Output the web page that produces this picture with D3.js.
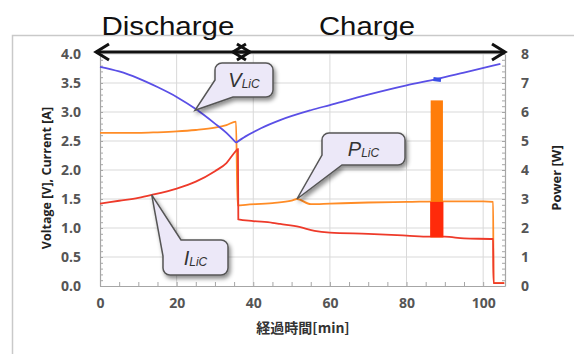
<!DOCTYPE html>
<html>
<head>
<meta charset="utf-8">
<script src="https://cdn.jsdelivr.net/npm/d3@7"></script>
<style>
  body { margin: 0; background: #fff; }
  svg { display: block; }
  .tick text { font-family: "Open Sans", sans-serif; font-weight: bold; fill: #555; }
</style>
</head>
<body>
<div id="chart"></div>
<script>
// time [min] / value pairs
const voltTime   = [0, 5, 10, 15, 20, 25, 30, 33, 35.5, 38, 42, 47, 55, 60, 70, 80, 88, 95, 104.5];
const voltValue  = [3.78, 3.70, 3.58, 3.43, 3.26, 3.05, 2.80, 2.64, 2.47, 2.58, 2.72, 2.86, 3.03, 3.12, 3.30, 3.46, 3.57, 3.68, 3.83];

const currTime   = [0, 5, 10, 13.5, 20, 25, 30, 33, 35.5, 36, 36.1, 40, 45, 47, 52, 56, 60, 70, 80, 86, 90, 95, 102.6, 102.7, 105.5];
const currValue  = [1.42, 1.47, 1.52, 1.57, 1.68, 1.80, 1.98, 2.12, 2.33, 2.36, 1.15, 1.12, 1.09, 1.07, 1.02, 0.95, 0.92, 0.90, 0.87, 0.85, 0.85, 0.82, 0.81, 0.05, 0.05];

const powTime    = [0, 10, 15, 20, 25, 30, 33, 35.5, 35.9, 38, 45, 50, 51.4, 55, 60, 70, 80, 90, 100, 102.6, 102.7, 105.5];
const powValue   = [5.28, 5.28, 5.30, 5.33, 5.38, 5.46, 5.55, 5.67, 2.78, 2.80, 2.86, 2.94, 3.00, 2.82, 2.84, 2.88, 2.90, 2.92, 2.92, 2.90, 0.1, 0.1];

// pulse test around 87 min
const pulseTime     = [86.3, 89.5];
const pulsePowerTop = 6.4;
const pulseCurrent  = [0.84, 1.45];
const blobTime      = [87, 89];
const blobVolt      = 3.57;

const phases = [
  {name: "Discharge", start: 0, end: 36},
  {name: "Charge", start: 36, end: 105.7}
];

const xTicks = [0, 20, 40, 60, 80, 100];
const leftTicks = [0, 0.5, 1, 1.5, 2, 2.5, 3, 3.5, 4];
const rightTicks = [0, 1, 2, 3, 4, 5, 6, 7, 8];

const W = 574, H = 354;
const svg = d3.select("#chart").append("svg").attr("width", W).attr("height", H);

const x = d3.scaleLinear().domain([0, 105.7]).range([100, 505]);
const yL = d3.scaleLinear().domain([0, 4]).range([286, 54]);
const yR = d3.scaleLinear().domain([0, 8]).range([286, 54]);

// outer frame
svg.append("path")
  .attr("d", "M12.5,354 V35.5 H574")
  .attr("fill", "none").attr("stroke", "#c9c9c9").attr("stroke-width", 1.5);

const defs = svg.append("defs");
const f = defs.append("filter").attr("id", "shadow").attr("x", "-20%").attr("y", "-20%").attr("width", "150%").attr("height", "160%");
f.append("feDropShadow").attr("dx", 2).attr("dy", 3).attr("stdDeviation", 2)
  .attr("flood-color", "#000").attr("flood-opacity", 0.45);

// grid
svg.append("g").selectAll("line").data(xTicks.filter(d => d > 0)).join("line")
  .attr("x1", d => x(d)).attr("x2", d => x(d))
  .attr("y1", yL(0)).attr("y2", yL(4))
  .attr("stroke", "#d9d9d9").attr("stroke-width", 1);
svg.append("g").selectAll("line").data(leftTicks.filter(d => d > 0)).join("line")
  .attr("x1", x(0)).attr("x2", x.range()[1])
  .attr("y1", d => yL(d)).attr("y2", d => yL(d))
  .attr("stroke", "#d9d9d9").attr("stroke-width", 1);

// axes
const axL = svg.append("g").attr("transform", `translate(${x(0)},0)`)
  .call(d3.axisLeft(yL).tickValues(leftTicks).tickFormat(d3.format(".1f")).tickSize(0).tickPadding(19));
const axR = svg.append("g").attr("transform", `translate(${x.range()[1]},0)`)
  .call(d3.axisRight(yR).tickValues(rightTicks).tickFormat(d3.format("d")).tickSize(0).tickPadding(16));
const axB = svg.append("g").attr("transform", `translate(0,${yL(0)})`)
  .call(d3.axisBottom(x).tickValues(xTicks).tickSize(0).tickPadding(12));
[axL, axR, axB].forEach(a => {
  a.select(".domain").attr("stroke", "#a6a6a6").attr("stroke-width", 1.2);
  a.selectAll(".tick text").attr("font-size", 14);
});

// minor ticks
svg.append("g").attr("transform", `translate(${x(0)},0)`)
  .call(d3.axisRight(yL).ticks(40).tickSize(3).tickFormat(""))
  .call(g => g.select(".domain").remove())
  .selectAll("line").attr("stroke", "#a6a6a6");
svg.append("g").attr("transform", `translate(${x.range()[1]},0)`)
  .call(d3.axisLeft(yR).ticks(40).tickSize(3).tickFormat(""))
  .call(g => g.select(".domain").remove())
  .selectAll("line").attr("stroke", "#a6a6a6");
svg.append("g").attr("transform", `translate(0,${yL(0)})`)
  .call(d3.axisTop(x).tickValues(d3.range(0, 105, 5)).tickSize(4).tickFormat(""))
  .call(g => g.select(".domain").remove())
  .selectAll("line").attr("stroke", "#a6a6a6");

// axis titles
svg.append("text")
  .attr("transform", `translate(51,${(yL(0) + yL(4)) / 2 + 8}) rotate(-90)`)
  .attr("text-anchor", "middle")
  .attr("font-family", "Open Sans, sans-serif").attr("font-weight", "bold").attr("font-size", 12.5)
  .attr("fill", "#222").text("Voltage [V], Current [A]");
svg.append("text")
  .attr("transform", `translate(561,${(yL(0) + yL(4)) / 2 + 8}) rotate(-90)`)
  .attr("text-anchor", "middle")
  .attr("font-family", "Open Sans, sans-serif").attr("font-weight", "bold").attr("font-size", 13)
  .attr("fill", "#222").text("Power [W]");
svg.append("text")
  .attr("x", 303).attr("y", 333)
  .attr("text-anchor", "middle")
  .attr("font-family", "Noto Sans CJK JP, sans-serif").attr("font-weight", "bold").attr("font-size", 14)
  .attr("fill", "#333").text("経過時間[min]");

// series
const zip = (t, v) => t.map((d, i) => [d, v[i]]);
const lineL = d3.line().curve(d3.curveMonotoneX).x(d => x(d[0])).y(d => yL(d[1]));
const lineR = d3.line().curve(d3.curveMonotoneX).x(d => x(d[0])).y(d => yR(d[1]));

svg.append("path").datum(zip(powTime, powValue))
  .attr("d", lineR).attr("fill", "none").attr("stroke", "#ff8c26").attr("stroke-width", 1.8);
svg.append("path").datum(zip(currTime, currValue))
  .attr("d", lineL).attr("fill", "none").attr("stroke", "#ee3a2a").attr("stroke-width", 1.8);
const volt = zip(voltTime, voltValue);
svg.append("path")
  .attr("d", lineL(volt.slice(0, 9)) + lineL(volt.slice(8)))
  .attr("fill", "none").attr("stroke", "#5a4fe6").attr("stroke-width", 1.8);

// pulse section
svg.append("rect")
  .attr("x", x(pulseTime[0])).attr("width", x(pulseTime[1]) - x(pulseTime[0]))
  .attr("y", yR(pulsePowerTop)).attr("height", yL(pulseCurrent[0]) - yR(pulsePowerTop))
  .attr("fill", "#ff7d0a");
svg.append("rect")
  .attr("x", x(pulseTime[0]) - 0.5).attr("width", x(pulseTime[1]) - x(pulseTime[0]) + 1)
  .attr("y", yL(pulseCurrent[1])).attr("height", yL(pulseCurrent[0]) - yL(pulseCurrent[1]))
  .attr("fill", "#ff2a0a");
svg.append("line")
  .attr("x1", x(blobTime[0])).attr("x2", x(blobTime[1]))
  .attr("y1", yL(blobVolt)).attr("y2", yL(blobVolt) + 1)
  .attr("stroke", "#3a4fe6").attr("stroke-width", 4);

// phase arrows
const arrowG = svg.append("g").attr("stroke", "#111").attr("stroke-width", 3).attr("fill", "none");
function chev(xt, yt, dir) {
  return `M${xt - dir * 13},${yt - 8} L${xt},${yt} L${xt - dir * 13},${yt + 8}`;
}
const ay = 52;
const arrowEnds = [[x(phases[0].start) - 4, x(phases[0].end) + 12], [x(phases[1].start) - 5, x(phases[1].end)]];
phases.forEach((p, i) => {
  const [x1, x2] = arrowEnds[i];
  arrowG.append("path").attr("d", `M${x1},${ay} H${x2}`);
  arrowG.append("path").attr("d", chev(x1, ay, -1));
  arrowG.append("path").attr("d", chev(x2, ay, 1));
});
const titleLen = [133, 96];
svg.append("g").selectAll("text").data(phases).join("text")
  .attr("x", (d, i) => (arrowEnds[i][0] + arrowEnds[i][1]) / 2 + (i === 0 ? -5 : -2))
  .attr("y", 35)
  .attr("text-anchor", "middle")
  .attr("font-family", "Liberation Sans, Arial, sans-serif").attr("font-size", 25)
  .attr("textLength", (d, i) => titleLen[i]).attr("lengthAdjust", "spacingAndGlyphs")
  .attr("fill", "#111").text(d => d.name);

// callouts
const callouts = [
  {main: "V", box: [215, 63, 58, 34], corner: "bl", a: 17, b: 18, tip: [24.8, 3.03]},
  {main: "P", box: [322, 133, 83, 32], corner: "bl", a: 10, b: 20, tip: [51.4, 1.5]},
  {main: "I", box: [163, 240, 65, 35], corner: "tl", a: 16, b: 18, tip: [13.5, 1.57]}
];
function calloutPath(c) {
  const [bx, by, bw, bh] = c.box, r = 7;
  const tx = x(c.tip[0]), ty = yL(c.tip[1]);
  if (c.corner === "bl") {
    return `M${bx + r},${by} H${bx + bw - r} A${r},${r} 0 0 1 ${bx + bw},${by + r} V${by + bh - r}` +
      ` A${r},${r} 0 0 1 ${bx + bw - r},${by + bh} H${bx + c.b} L${tx},${ty} L${bx},${by + bh - c.a}` +
      ` V${by + r} A${r},${r} 0 0 1 ${bx + r},${by} Z`;
  }
  return `M${bx + c.b},${by} H${bx + bw - r} A${r},${r} 0 0 1 ${bx + bw},${by + r} V${by + bh - r}` +
    ` A${r},${r} 0 0 1 ${bx + bw - r},${by + bh} H${bx + r} A${r},${r} 0 0 1 ${bx},${by + bh - r}` +
    ` V${by + c.a} L${tx},${ty} Z`;
}
const cg = svg.append("g").selectAll("g").data(callouts).join("g");
cg.append("path").attr("d", calloutPath)
  .attr("fill", "#ece8f8").attr("stroke", "#555").attr("stroke-width", 1.5)
  .attr("filter", "url(#shadow)");
const ct = cg.append("text")
  .attr("x", d => d.box[0] + d.box[2] / 2)
  .attr("y", d => d.box[1] + d.box[3] / 2 + 7)
  .attr("text-anchor", "middle")
  .attr("font-family", "Liberation Sans, Arial, sans-serif").attr("font-style", "italic")
  .attr("fill", "#333");
ct.append("tspan").attr("font-size", 20).text(d => d.main);
ct.append("tspan").attr("font-size", 12).attr("dy", 1).text("LiC");
</script>
</body>
</html>
